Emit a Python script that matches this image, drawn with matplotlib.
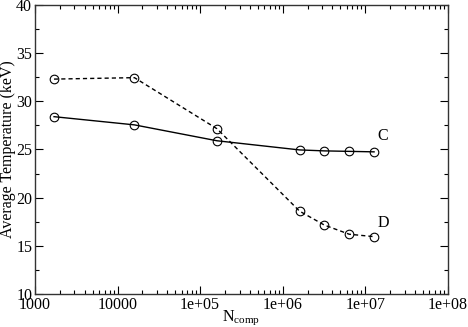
import matplotlib
matplotlib.use("Agg")
import matplotlib.pyplot as plt
from matplotlib.ticker import FixedLocator, FuncFormatter, LogLocator, MultipleLocator

plt.rcParams['font.family'] = ['Liberation Serif', 'DejaVu Serif']
plt.rcParams['mathtext.fontset'] = 'custom'
plt.rcParams['mathtext.rm'] = 'Liberation Serif'

# datos
n_comp = [1700, 16000, 160000, 1600000, 3200000, 6400000, 12800000]
temp_c = [28.4, 27.55, 25.9, 24.95, 24.85, 24.8, 24.75]
temp_d = [32.3, 32.45, 27.15, 18.6, 17.15, 16.2, 15.95]
etiquetas_x = {1e3: "1000", 1e4: "10000", 1e5: "1e+05", 1e6: "1e+06", 1e7: "1e+07", 1e8: "1e+08"}

fig = plt.figure(figsize=(4.68, 3.27), dpi=100)
ax = fig.add_axes([0.0748, 0.101, 0.882, 0.884])

ax.plot(n_comp, temp_c, color='black', lw=1.0, marker='o', ms=6.2,
        mfc='none', mec='black', mew=0.8)
ax.plot(n_comp, temp_d, color='black', lw=1.0, ls=(0, (3, 2.2)), marker='o', ms=6.2,
        mfc='none', mec='black', mew=0.8)

ax.text(1.42e7, 26.0, "C", fontsize=11.5)
ax.text(1.42e7, 16.9, "D", fontsize=11.5)

ax.set_xscale('log')
ax.set_xlim(1e3, 1e8)
ax.set_ylim(10, 40)
ax.xaxis.set_major_locator(FixedLocator(list(etiquetas_x.keys())))
ax.xaxis.set_major_formatter(FuncFormatter(lambda v, p: etiquetas_x.get(v, "")))
ax.xaxis.set_minor_locator(LogLocator(base=10, subs=range(2, 10), numticks=20))
ax.yaxis.set_major_locator(MultipleLocator(5))
ax.yaxis.set_minor_locator(MultipleLocator(2.5))

ax.tick_params(which='both', direction='in', top=True, right=True, labelsize=11.5, pad=2)
ax.tick_params(which='major', length=6, width=0.8)
ax.tick_params(which='minor', length=3, width=0.8)
for s in ax.spines.values():
    s.set_linewidth(1.0)
    s.set_color('#333333')

ax.set_xlabel(r"N$_{\mathrm{comp}}$", fontsize=11.5, labelpad=-3)
ax.set_ylabel("Average Temperature (keV)", fontsize=11.5, labelpad=0)

plt.savefig("out.png", dpi=100)
